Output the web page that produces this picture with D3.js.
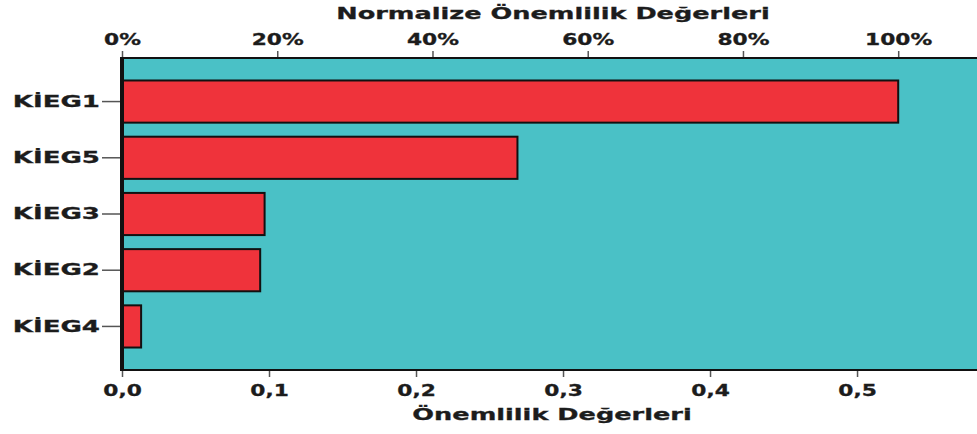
<!DOCTYPE html>
<html lang="tr">
<head>
	<meta charset="UTF-8">
	<title>Önemlilik Değerleri</title>
	<script src="https://d3js.org/d3.v7.min.js"></script>
	<style type="text/css">
		body { margin: 0; background: #fff; }
		svg text { font-family: "DejaVu Sans", sans-serif; font-weight: bold; fill: #1c1c1c; stroke: #1c1c1c; stroke-width: 0.3; }
		.bar { fill: #ef333b; stroke: #111; stroke-width: 2; }
	</style>
</head>
<body>
<script type="text/javascript">

	// data
	var categories = ['KİEG1', 'KİEG5', 'KİEG3', 'KİEG2', 'KİEG4'];
	var importance = [0.528, 0.269, 0.097, 0.094, 0.013];
	var bottomTicks = [0, 0.1, 0.2, 0.3, 0.4, 0.5];
	var topTicks = [0, 0.2, 0.4, 0.6, 0.8, 1.0];

	var W = 977, H = 434;
	var margin = {top: 58, left: 122, bottom: 64, right: 0};

	var svg = d3.select('body').append('svg')
		.attr('width', W)
		.attr('height', H);

	// x runs past the right edge (the original is cut off there)
	var x = d3.scaleLinear()
		.domain([0, 0.5816])
		.range([margin.left, W - margin.right]);

	var maxVal = d3.max(importance);
	var xPct = d3.scaleLinear()
		.domain([0, 1])
		.range([x(0), x(maxVal)]);

	var y = d3.scaleBand()
		.domain(categories)
		.range([margin.top, H - margin.bottom])
		.paddingInner(0.25)
		.paddingOuter(0.4);

	// plot background
	svg.append('rect')
		.attr('x', x(0))
		.attr('y', margin.top)
		.attr('width', W - x(0) + 2)
		.attr('height', H - margin.bottom - margin.top)
		.style('fill', '#4ac1c6')
		.style('stroke', '#111')
		.style('stroke-width', 2);

	// bars
	svg.selectAll('.bar')
		.data(categories)
		.enter().append('rect')
		.attr('class', 'bar')
		.attr('x', x(0))
		.attr('y', function (d) { return y(d); })
		.attr('width', function (d, i) { return x(importance[i]) - x(0); })
		.attr('height', y.bandwidth());

	// thick left edge
	svg.append('line')
		.attr('x1', x(0)).attr('x2', x(0))
		.attr('y1', margin.top - 1).attr('y2', H - margin.bottom + 1)
		.style('stroke', '#111')
		.style('stroke-width', 4);

	// axes
	var commaFmt = function (d) { return d3.format('.1f')(d).replace('.', ','); };

	var bottomAxis = svg.append('g')
		.attr('transform', 'translate(0,' + (H - margin.bottom + 1) + ')')
		.call(d3.axisBottom(x).tickValues(bottomTicks).tickFormat(commaFmt).tickSize(6).tickPadding(8));

	var topAxis = svg.append('g')
		.attr('transform', 'translate(0,' + (margin.top - 1) + ')')
		.call(d3.axisTop(xPct).tickValues(topTicks).tickFormat(d3.format('.0%')).tickSize(6).tickPadding(6));

	var leftAxis = svg.append('g')
		.attr('transform', 'translate(' + (x(0) - 2) + ',0)')
		.call(d3.axisLeft(y).tickSize(18).tickPadding(2));

	[bottomAxis, topAxis, leftAxis].forEach(function (g) {
		g.select('.domain').remove();
		g.selectAll('.tick line').style('stroke', '#555').style('stroke-width', 1.5);
		g.selectAll('.tick text').style('font-size', '15px').attr('data-sx', 1.45);
	});
	leftAxis.selectAll('.tick text').style('font-size', '16px').attr('data-sx', 1.63);

	// titles
	svg.append('text')
		.attr('x', 553)
		.attr('y', 19)
		.attr('data-sx', 1.6)
		.style('text-anchor', 'middle')
		.style('font-size', '16px')
		.text('Normalize Önemlilik Değerleri');

	svg.append('text')
		.attr('x', 552)
		.attr('y', 420)
		.attr('data-sx', 1.6)
		.style('text-anchor', 'middle')
		.style('font-size', '16px')
		.text('Önemlilik Değerleri');

	// the original lettering is stretched sideways
	svg.selectAll('text[data-sx]').each(function () {
		var t = d3.select(this);
		var sx = +t.attr('data-sx');
		var x0 = +t.attr('x') || 0;
		t.attr('x', 0)
			.attr('transform', 'translate(' + x0 + ',0) scale(' + sx + ',1)');
	});

</script>
</body>
</html>
